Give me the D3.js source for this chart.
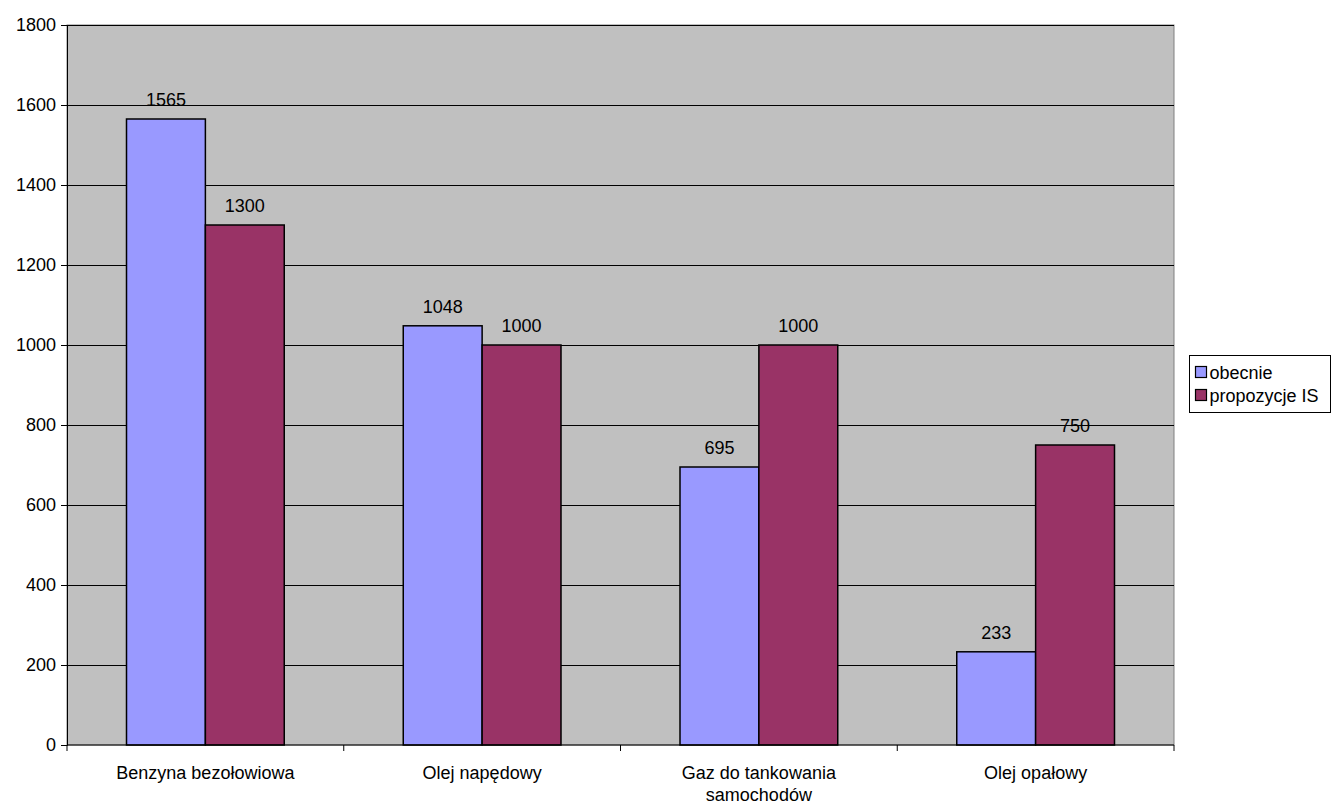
<!DOCTYPE html>
<meta charset="utf-8">
<head>
    <script type="text/javascript" src="https://cdn.jsdelivr.net/npm/d3@7/dist/d3.min.js"></script>
    <style>
        body { margin: 0; background: #fff; }
        text { font-family: "Liberation Sans", Arial, sans-serif; font-size: 18px; fill: #000; }
    </style>
</head>
<body>
<div id="chart"></div>
</body>
<script>
    // data
    var categories = ["Benzyna bezołowiowa", "Olej napędowy", "Gaz do tankowania samochodów", "Olej opałowy"];
    var catLines = [["Benzyna bezołowiowa"], ["Olej napędowy"], ["Gaz do tankowania", "samochodów"], ["Olej opałowy"]];
    var seriesNames = ["obecnie", "propozycje IS"];
    var obecnie = [1565, 1048, 695, 233];
    var propozycje = [1300, 1000, 1000, 750];
    var yTicks = [0, 200, 400, 600, 800, 1000, 1200, 1400, 1600, 1800];
    var colors = ["#9999ff", "#993366"];

    var margin = {top: 25, right: 158, bottom: 59, left: 67};
    var W = 1332, H = 804;
    var width = W - margin.left - margin.right;
    var height = H - margin.top - margin.bottom;

    var svg = d3.select('#chart').append('svg')
        .attr('width', W).attr('height', H);
    var g = svg.append('g').attr('transform', 'translate(' + margin.left + ',' + margin.top + ')');

    var x0 = d3.scaleBand().domain(categories).range([0, width]);
    var x1 = d3.scaleBand().domain(seriesNames).range([0, x0.bandwidth() * 0.57])
    var y = d3.scaleLinear().domain([0, 1800]).range([height, 0]);

    // plot background
    g.append('rect').attr('width', width).attr('height', height)
        .attr('fill', '#c0c0c0').attr('stroke', '#808080').attr('stroke-width', 1);

    // gridlines
    g.selectAll('.grid').data(yTicks.slice(1)).enter().append('line')
        .attr('x1', 0).attr('x2', width)
        .attr('y1', d => Math.round(y(d)) + 0.5).attr('y2', d => Math.round(y(d)) + 0.5)
        .attr('stroke', '#000').attr('stroke-width', 1);

    // bars
    var groups = g.selectAll('.grp').data(categories).enter().append('g')
        .attr('transform', d => 'translate(' + (x0(d) + (x0.bandwidth() - x1.range()[1]) / 2) + ',0)');
    groups.each(function (c, i) {
        var vals = [obecnie[i], propozycje[i]];
        var sel = d3.select(this);
        sel.selectAll('rect').data(vals).enter().append('rect')
            .attr('x', (d, j) => x1(seriesNames[j]))
            .attr('y', d => y(d))
            .attr('width', x1.bandwidth())
            .attr('height', d => height - y(d))
            .attr('fill', (d, j) => colors[j])
            .attr('stroke', '#000').attr('stroke-width', 1.5);
        sel.selectAll('text').data(vals).enter().append('text')
            .attr('x', (d, j) => x1(seriesNames[j]) + x1.bandwidth() / 2)
            .attr('y', d => y(d) - 13)
            .attr('text-anchor', 'middle')
            .text(d => d);
    });

    // y axis
    var yAxis = g.append('g').call(d3.axisLeft(y).tickValues(yTicks).tickFormat(d3.format('d')).tickSize(6).tickPadding(5));
    yAxis.select('.domain').attr('stroke', '#000');
    yAxis.selectAll('text').style('font-size', '18px').attr('fill', '#000');

    // x axis
    var xBounds = d3.range(categories.length + 1).map(i => i * x0.step());
    var xa = g.append('g').attr('transform', 'translate(0,' + height + ')');
    xa.append('line').attr('x1', 0).attr('x2', width).attr('stroke', '#000');
    xa.selectAll('.tick').data(xBounds).enter().append('line')
        .attr('x1', d => d).attr('x2', d => d).attr('y1', 0).attr('y2', 6)
        .attr('stroke', '#000');
    catLines.forEach(function (lines, i) {
        var t = xa.append('text').attr('text-anchor', 'middle')
            .attr('x', x0(categories[i]) + x0.bandwidth() / 2).attr('y', 34);
        lines.forEach(function (l, k) {
            t.append('tspan').attr('x', x0(categories[i]) + x0.bandwidth() / 2)
                .attr('dy', k === 0 ? 0 : 22).text(l);
        });
    });

    // legend
    var lg = svg.append('g').attr('transform', 'translate(1189.5,355.5)');
    lg.append('rect').attr('width', 141).attr('height', 57)
        .attr('fill', '#fff').attr('stroke', '#000');
    seriesNames.forEach(function (s, i) {
        lg.append('rect').attr('x', 6).attr('y', 11 + i * 23).attr('width', 11).attr('height', 11)
            .attr('fill', colors[i]).attr('stroke', '#000').attr('stroke-width', 1.2);
        lg.append('text').attr('x', 20).attr('y', 23 + i * 23).text(s);
    });
</script>
</html>
